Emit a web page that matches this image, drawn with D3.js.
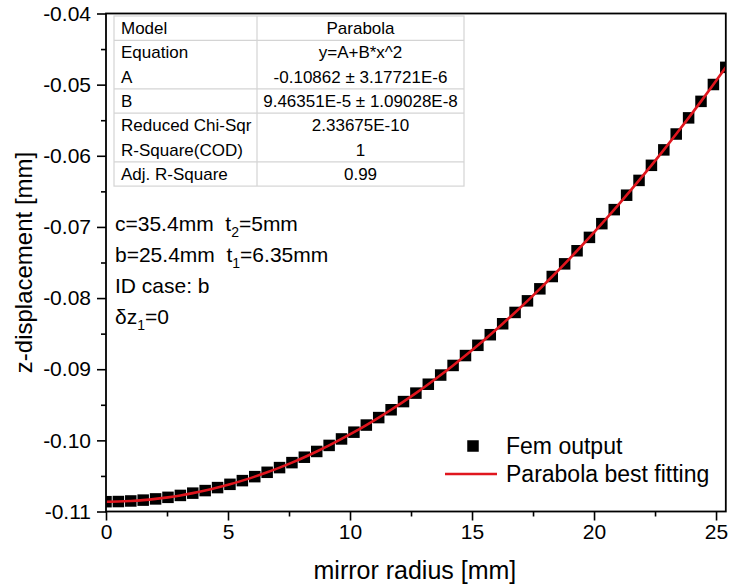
<!DOCTYPE html>
<html>
<head>
<meta charset="utf-8">
<script src="https://cdn.jsdelivr.net/npm/d3@7"></script>
<style>
  html, body { margin: 0; padding: 0; background: #fff; }
  svg { display: block; font-family: "Liberation Sans", Arial, sans-serif; }
</style>
</head>
<body>
<svg id="chart" width="729" height="587"></svg>
<script>
// FEM output: mirror radius [mm] vs z-displacement [mm]
const femRadius = [
  0.000, 0.508, 1.016, 1.524, 2.032, 2.540, 3.048, 3.556, 4.064, 4.572,
  5.080, 5.588, 6.096, 6.604, 7.112, 7.620, 8.128, 8.636, 9.144, 9.652,
  10.160, 10.668, 11.176, 11.684, 12.192, 12.700, 13.208, 13.716, 14.224, 14.732,
  15.240, 15.748, 16.256, 16.764, 17.272, 17.780, 18.288, 18.796, 19.304, 19.812,
  20.320, 20.828, 21.336, 21.844, 22.352, 22.860, 23.368, 23.876, 24.384, 24.892,
  25.400
];
const femDisplacement = [
  -0.10862, -0.10860, -0.10852, -0.10840, -0.10823, -0.10801, -0.10774, -0.10742, -0.10706, -0.10664,
  -0.10618, -0.10566, -0.10510, -0.10449, -0.10383, -0.10313, -0.10237, -0.10156, -0.10071, -0.09980,
  -0.09885, -0.09785, -0.09680, -0.09570, -0.09455, -0.09336, -0.09211, -0.09082, -0.08947, -0.08808,
  -0.08664, -0.08515, -0.08361, -0.08202, -0.08039, -0.07870, -0.07697, -0.07519, -0.07335, -0.07147,
  -0.06954, -0.06757, -0.06554, -0.06346, -0.06134, -0.05917, -0.05694, -0.05467, -0.05235, -0.04998,
  -0.04757
];

// Axis ticks
const xTicks = [0, 5, 10, 15, 20, 25];
const xMinorTicks = [2.5, 7.5, 12.5, 17.5, 22.5];
const yTicks = [-0.11, -0.10, -0.09, -0.08, -0.07, -0.06, -0.05, -0.04];
const yTickLabels = ["-0.11", "-0.10", "-0.09", "-0.08", "-0.07", "-0.06", "-0.05", "-0.04"];
const yMinorTicks = [-0.105, -0.095, -0.085, -0.075, -0.065, -0.055, -0.045];

// Fit report table
const tableLabels = ["Model", "Equation", "A", "B", "Reduced Chi-Sqr", "R-Square(COD)", "Adj. R-Square"];
const tableValues = ["Parabola", "y=A+B*x^2", "-0.10862 \u00b1 3.17721E-6", "9.46351E-5 \u00b1 1.09028E-8", "2.33675E-10", "1", "0.99"];
const tableRulesAfter = [0, 2, 3, 5];

// Geometry annotations
const notes = [
  [["c=35.4mm\u00a0\u00a0t", null], ["2", "sub"], ["=5mm", null]],
  [["b=25.4mm\u00a0\u00a0t", null], ["1", "sub"], ["=6.35mm", null]],
  [["ID case: b", null]],
  [["\u03b4z", null], ["1", "sub"], ["=0", null]]
];

const legendItems = ["Fem output", "Parabola best fitting"];

const svg = d3.select("#chart");
const margin = { left: 106, right: 3.2, top: 13.5, bottom: 75.5 };
const W = 729, H = 587;
const x = d3.scaleLinear().domain([0, 25.4]).range([margin.left, W - margin.right]);
const y = d3.scaleLinear().domain([-0.11, -0.04]).range([H - margin.bottom, margin.top]);

const x0 = x.range()[0], x1 = x.range()[1];
const yb = y.range()[0], yt = y.range()[1];

svg.append("rect").attr("width", W).attr("height", H).attr("fill", "#fff");

// clip for data marks
svg.append("clipPath").attr("id", "plotclip")
  .append("rect").attr("x", x0).attr("y", yt).attr("width", x1 - x0).attr("height", yb - yt);

// Axes
const xAxis = svg.append("g").attr("transform", `translate(0,${yb})`)
  .call(d3.axisBottom(x).tickValues(xTicks).tickSize(9).tickPadding(3).tickFormat(d3.format("d")));
svg.append("g").attr("transform", `translate(0,${yb})`)
  .call(d3.axisBottom(x).tickValues(xMinorTicks).tickSize(5).tickFormat(""));
const yAxis = svg.append("g").attr("transform", `translate(${x0},0)`)
  .call(d3.axisLeft(y).tickValues(yTicks).tickSize(9).tickPadding(6)
    .tickFormat((d, i) => yTickLabels[i]));
svg.append("g").attr("transform", `translate(${x0},0)`)
  .call(d3.axisLeft(y).tickValues(yMinorTicks).tickSize(5).tickFormat(""));

svg.selectAll(".domain").remove();
svg.selectAll(".tick line").attr("stroke", "#000").attr("stroke-width", 1.6);
xAxis.selectAll("text").attr("font-size", 21).attr("fill", "#000").attr("dy", "0.75em");
yAxis.selectAll("text").attr("font-size", 21).attr("fill", "#000");

// Data squares
const plot = svg.append("g").attr("clip-path", "url(#plotclip)");
const sq = 11.5;
plot.selectAll("rect.pt").data(femRadius).enter().append("rect")
  .attr("class", "pt")
  .attr("x", (d) => x(d) - sq / 2)
  .attr("y", (d, i) => y(femDisplacement[i]) - sq / 2)
  .attr("width", sq).attr("height", sq)
  .attr("fill", "#000");

// Fitted curve through the same points
const fitLine = d3.line()
  .x((d) => x(d))
  .y((d, i) => y(femDisplacement[i]))
  .curve(d3.curveNatural);
plot.append("path").datum(femRadius)
  .attr("d", fitLine)
  .attr("fill", "none").attr("stroke", "#e0161e").attr("stroke-width", 2.6);

// Frame
svg.append("rect").attr("x", x0).attr("y", yt).attr("width", x1 - x0).attr("height", yb - yt)
  .attr("fill", "none").attr("stroke", "#000").attr("stroke-width", 1.8);

// Axis titles
svg.append("text").attr("x", (x0 + x1) / 2 - 1).attr("y", 579)
  .attr("text-anchor", "middle").attr("font-size", 25).attr("fill", "#000")
  .text("mirror radius [mm]");
svg.append("text").attr("transform", `translate(32,${(yt + yb) / 2}) rotate(-90)`)
  .attr("text-anchor", "middle").attr("font-size", 24).attr("fill", "#000")
  .text("z-displacement [mm]");

// Fit report table
const tb = { left: 114, right: 464, div: 257, top: 16, rowH: 24.3 };
const table = svg.append("g");
const tBottom = tb.top + tb.rowH * tableLabels.length;
table.append("rect").attr("x", tb.left).attr("y", tb.top)
  .attr("width", tb.right - tb.left).attr("height", tBottom - tb.top)
  .attr("fill", "#fff").attr("stroke", "#d4d4d4").attr("stroke-width", 1.2);
table.append("line").attr("x1", tb.div).attr("x2", tb.div).attr("y1", tb.top).attr("y2", tBottom)
  .attr("stroke", "#d4d4d4").attr("stroke-width", 1.2);
table.selectAll("line.rule").data(tableRulesAfter).enter().append("line")
  .attr("class", "rule")
  .attr("x1", tb.left).attr("x2", tb.right)
  .attr("y1", (r) => tb.top + tb.rowH * (r + 1)).attr("y2", (r) => tb.top + tb.rowH * (r + 1))
  .attr("stroke", "#d4d4d4").attr("stroke-width", 1.2);
table.selectAll("text.lab").data(tableLabels).enter().append("text")
  .attr("class", "lab")
  .attr("x", tb.left + 7).attr("y", (d, i) => tb.top + tb.rowH * (i + 0.5) + 6)
  .attr("font-size", 17).attr("fill", "#000").text((d) => d);
table.selectAll("text.val").data(tableValues).enter().append("text")
  .attr("class", "val")
  .attr("x", (tb.div + tb.right) / 2).attr("y", (d, i) => tb.top + tb.rowH * (i + 0.5) + 6)
  .attr("text-anchor", "middle").attr("font-size", 17).attr("fill", "#000").text((d) => d);

// Annotations
notes.forEach((parts, i) => {
  const t = svg.append("text").attr("x", 115).attr("y", 231 + 31 * i)
    .attr("font-size", 21).attr("fill", "#000");
  parts.forEach(([s, kind]) => {
    const ts = t.append("tspan").text(s);
    if (kind === "sub") ts.attr("font-size", 14).attr("dy", 6);
    else if (t.selectAll("tspan").size() > 1) ts.attr("dy", -6);
  });
});

// Legend
const lg = svg.append("g");
lg.append("rect").attr("x", 473 - sq / 2).attr("y", 446 - sq / 2).attr("width", sq).attr("height", sq).attr("fill", "#000");
lg.append("line").attr("x1", 445).attr("x2", 497).attr("y1", 474).attr("y2", 474)
  .attr("stroke", "#e0161e").attr("stroke-width", 2.6);
lg.selectAll("text").data(legendItems).enter().append("text")
  .attr("x", 506).attr("y", (d, i) => 446 + 28 * i + 8)
  .attr("font-size", 23).attr("fill", "#000").text((d) => d);
</script>
</body>
</html>
